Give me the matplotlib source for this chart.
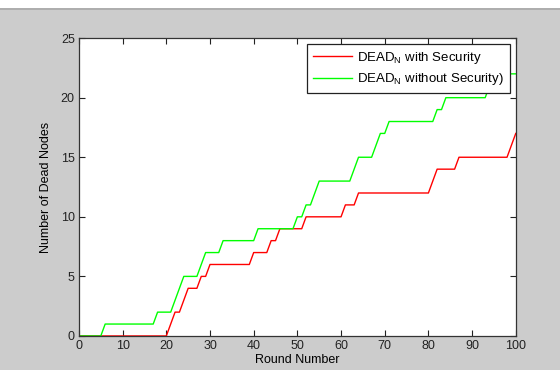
import matplotlib
matplotlib.use("Agg")
import matplotlib.pyplot as plt
import numpy as np

plt.rcParams['font.family'] = ['Liberation Sans', 'DejaVu Sans']
plt.rcParams['mathtext.default'] = 'regular'

# Round numbers 0..100
rounds = np.arange(0, 101)

# Dead nodes with security (red)
dead_sec = [0]*21 + [1, 2, 2, 3, 4, 4, 4, 5, 5] + [6]*10 + [7]*4 + [8]*2 \
    + [9]*6 + [10]*9 + [11]*3 + [12]*17 + [13] + [14]*5 + [15]*12 + [16, 17]

# Dead nodes without security (green)
dead_nosec = [0]*6 + [1]*12 + [2]*4 + [3, 4] + [5]*4 + [6] + [7]*4 + [8]*8 \
    + [9]*9 + [10]*2 + [11]*2 + [12] + [13]*8 + [14] + [15]*4 + [16] \
    + [17]*2 + [18]*11 + [19]*2 + [20]*10 + [21] + [22]*6

labels = ['DEAD$_N$ with Security', 'DEAD$_N$ without Security)']

fig = plt.figure(figsize=(5.6, 3.7), dpi=100, facecolor='#cccccc')
ax = fig.add_axes([0.141, 0.092, 0.780, 0.805])

# white strip along the top of the window
fig.patches.append(plt.Rectangle((0, 0.978), 1, 0.022, transform=fig.transFigure,
                                 facecolor='white', edgecolor='none', zorder=0))
fig.lines.append(plt.Line2D([0, 1], [0.976, 0.976], transform=fig.transFigure,
                            color='#a8a8a8', lw=1.2))

ax.plot(rounds, dead_sec, color='#ff0000', lw=1, label=labels[0])
ax.plot(rounds, dead_nosec, color='#00ff00', lw=1, label=labels[1])

ax.set_xlim(0, 100)
ax.set_ylim(0, 25)
ax.set_xticks(np.arange(0, 101, 10))
ax.set_yticks(np.arange(0, 26, 5))
ax.tick_params(direction='in', top=True, right=True, length=4, width=0.8,
               labelsize=9, colors='#222222', pad=3)
for s in ax.spines.values():
    s.set_linewidth(0.9)
    s.set_color('#333333')

ax.set_xlabel('Round Number', fontsize=9, labelpad=1)
ax.set_ylabel('Number of Dead Nodes', fontsize=9, labelpad=6)

leg = ax.legend(loc='upper right', fontsize=9.5, fancybox=False, framealpha=1,
                edgecolor='#222222', borderpad=0.45, handlelength=3.0,
                handletextpad=0.35, labelspacing=0.4, borderaxespad=0,
                bbox_to_anchor=(0.986, 0.980))
leg.get_frame().set_linewidth(0.9)

fig.savefig('out.png', dpi=100, facecolor=fig.get_facecolor())
